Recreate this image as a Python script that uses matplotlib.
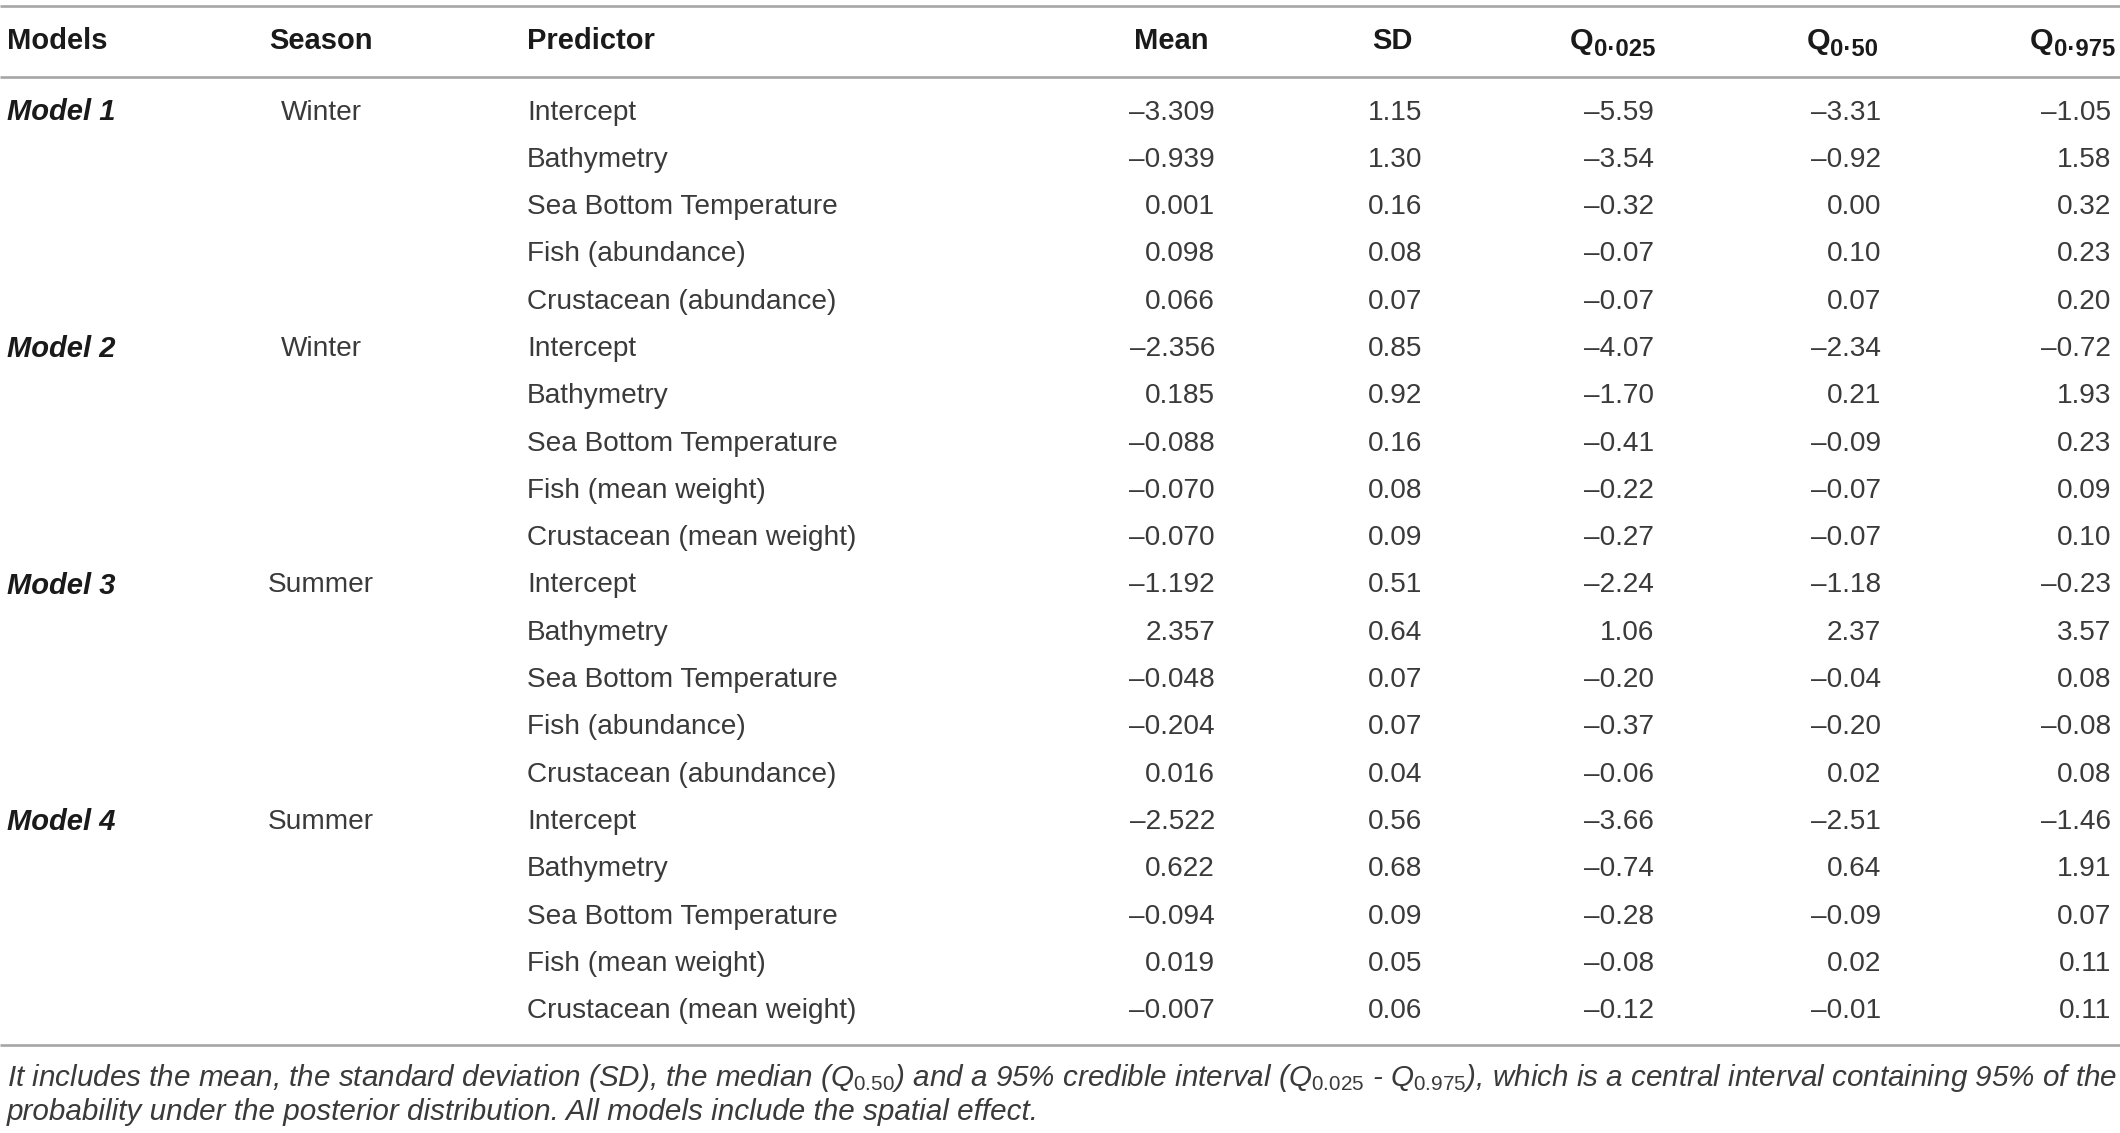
import matplotlib
matplotlib.use("Agg")
import matplotlib.pyplot as plt

plt.rcParams['font.family'] = ['Liberation Sans', 'DejaVu Sans']
plt.rcParams['mathtext.fontset'] = 'custom'
plt.rcParams['mathtext.rm'] = 'Liberation Sans'
plt.rcParams['mathtext.it'] = 'Liberation Sans:italic'
plt.rcParams['mathtext.bf'] = 'Liberation Sans:bold'

# ---------------- data ----------------
headers = ["Models", "Season", "Predictor", "Mean", "SD"]
q_headers = ["0·025", "0·50", "0·975"]
models = ["Model 1", "Model 2", "Model 3", "Model 4"]
seasons = ["Winter", "Winter", "Summer", "Summer"]
predictors = [
    "Intercept", "Bathymetry", "Sea Bottom Temperature", "Fish (abundance)", "Crustacean (abundance)",
    "Intercept", "Bathymetry", "Sea Bottom Temperature", "Fish (mean weight)", "Crustacean (mean weight)",
    "Intercept", "Bathymetry", "Sea Bottom Temperature", "Fish (abundance)", "Crustacean (abundance)",
    "Intercept", "Bathymetry", "Sea Bottom Temperature", "Fish (mean weight)", "Crustacean (mean weight)",
]
mean = [-3.309, -0.939, 0.001, 0.098, 0.066,
        -2.356, 0.185, -0.088, -0.070, -0.070,
        -1.192, 2.357, -0.048, -0.204, 0.016,
        -2.522, 0.622, -0.094, 0.019, -0.007]
sd = [1.15, 1.30, 0.16, 0.08, 0.07,
      0.85, 0.92, 0.16, 0.08, 0.09,
      0.51, 0.64, 0.07, 0.07, 0.04,
      0.56, 0.68, 0.09, 0.05, 0.06]
q025 = [-5.59, -3.54, -0.32, -0.07, -0.07,
        -4.07, -1.70, -0.41, -0.22, -0.27,
        -2.24, 1.06, -0.20, -0.37, -0.06,
        -3.66, -0.74, -0.28, -0.08, -0.12]
q50 = [-3.31, -0.92, 0.00, 0.10, 0.07,
       -2.34, 0.21, -0.09, -0.07, -0.07,
       -1.18, 2.37, -0.04, -0.20, 0.02,
       -2.51, 0.64, -0.09, 0.02, -0.01]
q975 = [-1.05, 1.58, 0.32, 0.23, 0.20,
        -0.72, 1.93, 0.23, 0.09, 0.10,
        -0.23, 3.57, 0.08, -0.08, 0.08,
        -1.46, 1.91, 0.07, 0.11, 0.11]
footnote = [
    r"It includes the mean, the standard deviation (SD), the median ($\mathit{Q}_{\mathit{0.50}}$) and a 95% credible interval "
    r"($\mathit{Q}_{\mathit{0.025}}$ - $\mathit{Q}_{\mathit{0.975}}$), which is a central interval containing 95% of the",
    "probability under the posterior distribution. All models include the spatial effect.",
]

# ---------------- layout ----------------
W, H = 2120, 1133
fig = plt.figure(figsize=(W / 100, H / 100), dpi=100)
ax = fig.add_axes([0, 0, 1, 1])
ax.set_xlim(0, W)
ax.set_ylim(H, 0)
ax.axis('off')
renderer = fig.canvas.get_renderer()

fs = 20.2
fs_h = 21.0
fs_f = 21.3
body_c = '#3a3a3a'
head_c = '#1a1a1a'
line_c = '#a6a6a6'

y_head = 41
y_row0 = 112.5
dy = 47.3

# lines
for yl in (6, 77, 1045):
    ax.plot([0, W], [yl, yl], color=line_c, lw=1.9, solid_capstyle='butt')

# headers
ax.text(7, y_head, headers[0], ha='left', va='center', fontsize=fs_h, fontweight='bold', color=head_c)
ax.text(321, y_head, headers[1], ha='center', va='center', fontsize=fs_h, fontweight='bold', color=head_c)
ax.text(527, y_head, headers[2], ha='left', va='center', fontsize=fs_h, fontweight='bold', color=head_c)
ax.text(1209, y_head, headers[3], ha='right', va='center', fontsize=fs_h, fontweight='bold', color=head_c)
ax.text(1413, y_head, headers[4], ha='right', va='center', fontsize=fs_h, fontweight='bold', color=head_c)

q_right = [1655, 1878, 2115]
for sub, xr in zip(q_headers, q_right):
    t = ax.text(xr, y_head + 9, sub, ha='right', va='center', fontsize=fs_h * 0.82,
                fontweight='bold', color=head_c)
    bb = t.get_window_extent(renderer=renderer)
    x_left = ax.transData.inverted().transform((bb.x0, 0))[0]
    ax.text(x_left, y_head, "Q", ha='right', va='center', fontsize=fs_h * 1.04,
            fontweight='bold', color=head_c)

def fmt(v, d):
    return f"{v:.{d}f}".replace("-", "\u2013")

val_right = [1215, 1422, 1654, 1881, 2111]
cols = [(mean, 3), (sd, 2), (q025, 2), (q50, 2), (q975, 2)]

for i, pred in enumerate(predictors):
    y = y_row0 + i * dy
    if i % 5 == 0:
        m = i // 5
        ax.text(7, y, models[m], ha='left', va='center', fontsize=fs_h, fontweight='bold',
                style='italic', color=head_c)
        ax.text(321, y, seasons[m], ha='center', va='center', fontsize=fs, color=body_c)
    ax.text(527, y, pred, ha='left', va='center', fontsize=fs, color=body_c)
    for (vals, d), xr in zip(cols, val_right):
        ax.text(xr, y, fmt(vals[i], d), ha='right', va='center', fontsize=fs, color=body_c)

for k, line in enumerate(footnote):
    ax.text(7, 1078 + k * 33.5, line, ha='left', va='center', fontsize=fs_f, style='italic', color=body_c)

fig.savefig("out.png", dpi=100)
